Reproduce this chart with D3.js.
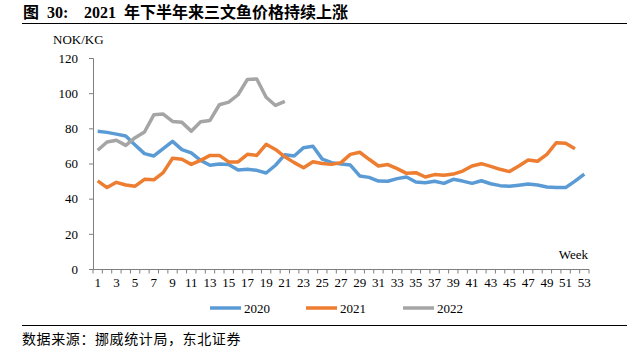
<!DOCTYPE html>
<html><head><meta charset="utf-8">
<script src="https://cdn.jsdelivr.net/npm/d3@7"></script>
<style>body{margin:0;background:#fff}svg{display:block}
.sf{font-family:"Liberation Serif","Tinos","Times New Roman","DejaVu Serif",serif}
</style>
</head><body><svg id="c" width="627" height="356"></svg>
<script>
const weeks = d3.range(1, 54);
const s2020 = [78.3,77.7,76.7,75.6,70.5,65.6,64.3,68.4,72.6,67.9,66.0,61.8,59.0,59.7,59.4,56.3,56.7,56.1,54.6,59.0,65.0,64.3,69.0,69.8,62.5,60.5,59.7,59.1,52.9,52.1,50.0,49.9,51.4,52.3,49.5,49.1,49.9,48.7,51.0,50.0,48.7,50.2,48.5,47.4,47.0,47.6,48.3,47.8,46.6,46.3,46.3,50.0,54.0];
const s2021 = [50.1,46.3,49.3,47.8,47.1,51.0,50.7,54.8,63.0,62.4,59.5,61.8,64.6,64.6,60.9,60.9,65.2,64.6,70.9,68.0,63.8,60.5,57.6,61.0,60.0,59.5,60.5,65.2,66.4,62.4,58.6,59.4,57.1,54.4,54.8,52.3,53.7,53.3,54.0,55.7,58.6,59.9,58.4,56.7,55.4,58.6,62.0,61.3,65.2,71.8,71.5,68.4];
const s2022 = [67.5,72.2,73.2,70.3,74.7,77.9,87.7,88.1,83.9,83.4,78.4,83.7,84.5,93.4,94.9,99.1,107.8,108.1,97.7,93.0,95.3];
const yTicks = [0,20,40,60,80,100,120];
const xLabels = weeks.filter(w => w % 2 === 1);
const seriesNames = ["2020","2021","2022"];
const colors = ["#5B9BD5","#ED7D31","#A5A5A5"];

const svg = d3.select("#c");

// title
const t = svg.append("text").attr("x",23).attr("y",18).attr("font-weight","bold")
  .style("font-family",'"Liberation Serif","Noto Sans CJK SC",serif').attr("font-size",16).attr("fill","#000");
t.append("tspan").text("图");
t.append("tspan").attr("x",47).text("30:");
t.append("tspan").attr("x",84).text("2021");
t.append("tspan").attr("x",124).text("年下半年来三文鱼价格持续上涨");
svg.append("line").attr("x1",22).attr("x2",627).attr("y1",23.5).attr("y2",23.5).attr("stroke","#000").attr("stroke-width",1);

const x = d3.scaleBand().domain(weeks).range([93, 589]);
const y = d3.scaleLinear().domain([0,120]).range([269, 58]);

// y axis
const ya = svg.append("g").attr("transform","translate(93,0)")
  .call(d3.axisLeft(y).tickValues(yTicks).tickSize(4).tickPadding(11));
ya.attr("font-family",null);
ya.select(".domain").attr("stroke","#7f7f7f").attr("d","M-4,58.5H0.5V269.5");
ya.selectAll(".tick line").attr("stroke","#7f7f7f");
ya.selectAll("text").attr("class","sf").attr("font-size",13).attr("fill","#000");

// x axis
const xa = svg.append("g").attr("transform","translate(0,269)")
  .call(d3.axisBottom(x).tickValues(xLabels).tickSize(0).tickPadding(9));
xa.attr("font-family",null);
xa.select(".domain").attr("stroke","#7f7f7f").attr("d","M93,0.5H589");
xa.selectAll("text").attr("class","sf").attr("font-size",13).attr("fill","#000");
xa.selectAll(".bt").data(d3.range(0,54)).enter().append("line").attr("class","bt")
  .attr("x1",d => 93 + d*x.step()).attr("x2",d => 93 + d*x.step())
  .attr("y1",0.5).attr("y2",4.5).attr("stroke","#7f7f7f");

svg.append("text").attr("class","sf").attr("x",53).attr("y",44).attr("font-size",13).text("NOK/KG");
svg.append("text").attr("class","sf").attr("x",588).attr("y",259).attr("text-anchor","end").attr("font-size",13).text("Week");

const line = d3.line().x((d,i) => x(i+1) + x.bandwidth()/2).y(d => y(d));
[s2020, s2021, s2022].forEach((s,k) => {
  svg.append("path").datum(s).attr("d", line).attr("fill","none")
    .attr("stroke", colors[k]).attr("stroke-width",3.5).attr("stroke-linejoin","round");
});

// legend
const lx = [210, 306, 403];
seriesNames.forEach((n,k) => {
  svg.append("line").attr("x1",lx[k]).attr("x2",lx[k]+31).attr("y1",308).attr("y2",308)
    .attr("stroke",colors[k]).attr("stroke-width",3.5);
  svg.append("text").attr("class","sf").attr("x",lx[k]+34).attr("y",312.5).attr("font-size",13).text(n);
});

svg.append("line").attr("x1",22).attr("x2",627).attr("y1",325.5).attr("y2",325.5).attr("stroke","#000").attr("stroke-width",1);
svg.append("text").attr("x",22).attr("y",344).style("font-family",'"Noto Sans CJK SC",sans-serif')
  .attr("font-size",14).attr("letter-spacing",0.6).text("数据来源：挪威统计局，东北证券");
</script></body></html>
